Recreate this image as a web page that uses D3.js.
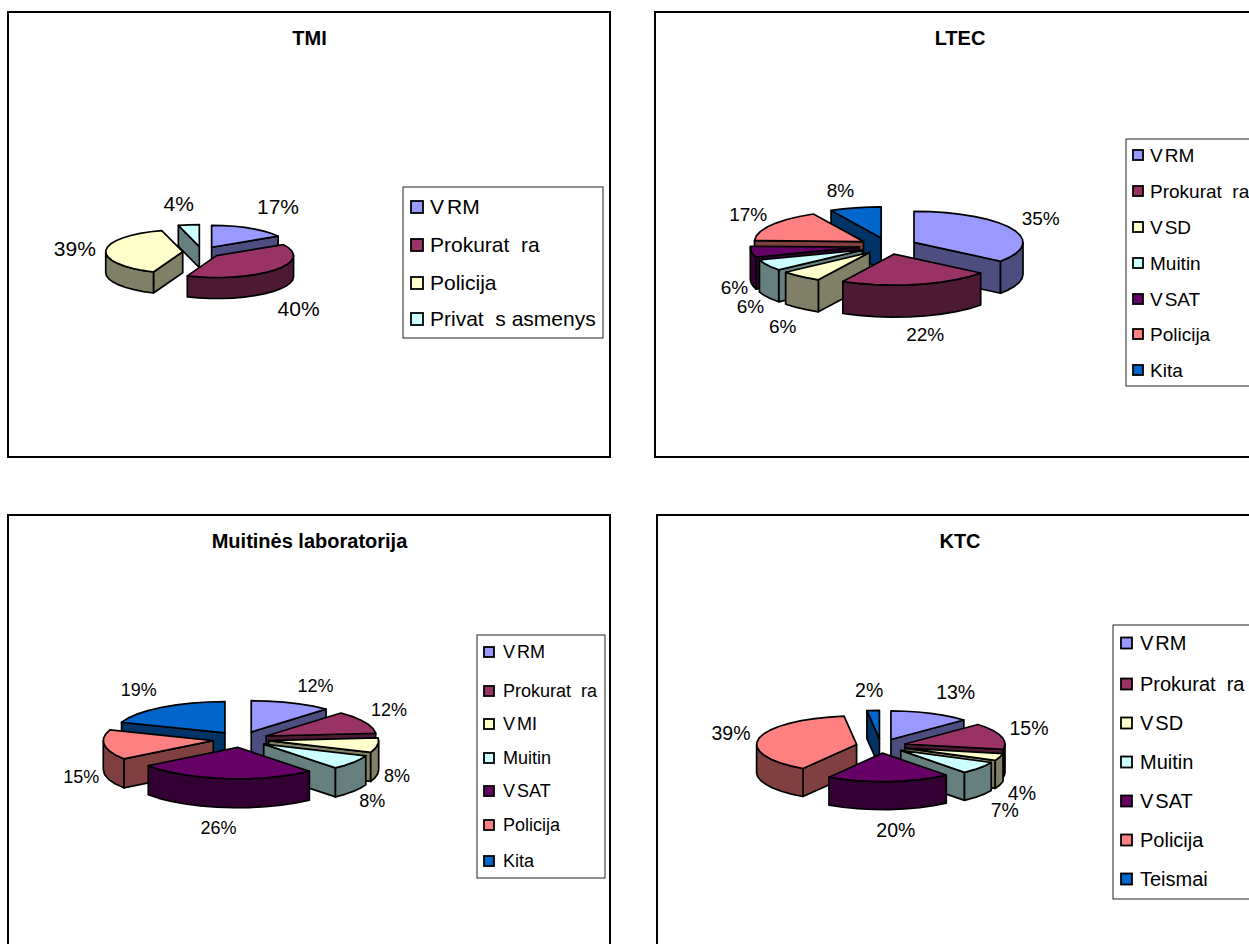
<!DOCTYPE html>
<html><head><meta charset="utf-8">
<script src="https://cdn.jsdelivr.net/npm/d3@7"></script>
<style>html,body{margin:0;padding:0;background:#fff;overflow:hidden}svg{display:block}text{font-family:"Liberation Sans",Arial,sans-serif;white-space:pre;fill:#000}</style>
</head><body><svg id="c" width="1249" height="944"></svg>
<script>
// ---- data ----
const tmiTitle = "TMI";
const tmiCategories = ["VRM","Prokurat  ra","Policija","Privat  s asmenys"];
const tmiValues = [16.6,39.6,39.4,4.4];
const ltecTitle = "LTEC";
const ltecCategories = ["VRM","Prokurat  ra","VSD","Muitin","VSAT","Policija","Kita"];
const ltecValues = [35.4,22.4,6.2,5.8,5.7,16.9,7.6];
const muitTitle = "Muitinės laboratorija";
const muitCategories = ["VRM","Prokurat  ra","VMI","Muitin","VSAT","Policija","Kita"];
const muitValues = [11.9,11.7,7.5,7.6,26.4,15.45,19.45];
const ktcTitle = "KTC";
const ktcCategories = ["VRM","Prokurat  ra","VSD","Muitin","VSAT","Policija","Teismai"];
const ktcValues = [13,15,4,7,20,39,2];
const palette = ["#9999FF","#993366","#FFFFCC","#CCFFFF","#660066","#FF8080","#0066CC"];

// ---- layout (separate from the data) ----
const charts = [
 {title:tmiTitle, cats:tmiCategories, vals:tmiValues,
  frame:[8,12,602,445], titleX:309.5, titleY:45, cx:202, cy:252, rx:77, depth:21, explode:19.3, labelSize:21,
  nudge:[[28,-22],[24,39],[-31,-2],[-10,-21]],
  legend:{x:403,y:187,w:200,h:151,rows:[207,245,283,319],swatch:12,swatchX:8,textX:27,size:21,gap:3}},
 {title:ltecTitle, cats:ltecCategories, vals:ltecValues,
  frame:[655,12,640,445], titleX:960, titleY:45, cx:888, cy:246, rx:109, depth:32, explode:29, labelSize:19,
  nudge:[[29,-10],[8,50],[-18,50],[-17,41],[-17,36],[-23,-11],[-15,-17]],
  legend:{x:1126,y:139,w:160,h:247,rows:[155,191,227,263,299,334,370],swatch:10,swatchX:7,textX:24,size:19,gap:2}},
 {title:muitTitle, cats:muitCategories, vals:muitValues,
  frame:[8,515,602,480], titleX:309.5, titleY:548, cx:241, cy:739.5, rx:110, depth:29, explode:28, labelSize:18,
  nudge:[[24,-17],[24,-12],[19.5,30],[19,38],[-6,49],[-23,32],[-23,-18]],
  legend:{x:477,y:635,w:128,h:243,rows:[652,691,724,758,791,825,861],swatch:10,swatchX:7,textX:26,size:18,gap:2}},
 {title:ktcTitle, cats:ktcCategories, vals:ktcValues,
  frame:[657,515,640,480], titleX:960, titleY:548, cx:881, cy:746, rx:100, depth:28, explode:25, labelSize:19.5,
  nudge:[[25,-21],[28,-8],[22,36],[25,42],[7,49],[-28,-5],[-4,-20]],
  legend:{x:1113,y:625,w:180,h:274,rows:[643,684,723,762,801,840,879],swatch:11,swatchX:8,textX:27,size:20,gap:2}}
];
const squash = 0.285;
const stepDeg = 9;
const svg = d3.select("#c");
const pie = d3.pie().sort(null).value(d=>d);
const dark = c => { const r=d3.rgb(c); return d3.rgb(r.r*.5,r.g*.5,r.b*.5).formatHex(); };

charts.forEach(ch=>{
  const [fx,fy,fw,fh]=ch.frame;
  const g=svg.append("g");
  g.append("rect").attr("x",fx).attr("y",fy).attr("width",fw).attr("height",fh)
    .attr("fill","#fff").attr("stroke","#000").attr("stroke-width",2);
  g.append("text").attr("x",ch.titleX).attr("y",ch.titleY).attr("text-anchor","middle")
    .attr("font-size",20).attr("font-weight","bold").text(ch.title);

  const ry=ch.rx*squash, ey=ch.explode*squash;
  const color=d3.scaleOrdinal().domain(ch.cats).range(palette);
  const sx=d3.scaleLinear().domain([-1,1]).range([ch.cx-ch.rx,ch.cx+ch.rx]);
  const sy=d3.scaleLinear().domain([-1,1]).range([ch.cy+ry,ch.cy-ry]); // north = +1
  const arcs=pie(ch.vals).map((a,i)=>{
    const mid=(a.startAngle+a.endAngle)/2;
    return {...a,i,mid,ox:ch.explode*Math.sin(mid),oy:-ey*Math.cos(mid),cat:ch.cats[i]};
  });
  const pt=(a,t,dz=0)=>[sx(Math.sin(t))+a.ox, sy(Math.cos(t))+a.oy+dz];
  const apex=(a,dz=0)=>[ch.cx+a.ox, ch.cy+a.oy+dz];
  const samples=(t0,t1)=>{
    const n=Math.max(1,Math.ceil((t1-t0)/(stepDeg*Math.PI/180))), o=[];
    for(let k=0;k<=n;k++) o.push(t0+(t1-t0)*k/n);
    return o;
  };
  const line=d3.line().curve(d3.curveLinear);
  const face=(sel,pts,fill)=>sel.append("path").attr("d",line(pts)+"Z").attr("fill",fill)
     .attr("stroke","#000").attr("stroke-width",1.7).attr("stroke-linejoin","round");

  // back slices first
  [...arcs].sort((p,q)=>Math.cos(q.mid)-Math.cos(p.mid)).forEach(a=>{
    const s=g.append("g"), c=color(a.cat), d=dark(c), D=ch.depth;
    const t0=a.startAngle,t1=a.endAngle;
    // radial walls facing the viewer
    if(Math.sin(t0)<-1e-6) face(s,[apex(a),pt(a,t0),pt(a,t0,D),apex(a,D)],d);
    if(Math.sin(t1)>1e-6) face(s,[apex(a),pt(a,t1),pt(a,t1,D),apex(a,D)],d);
    // outer wall: the front half of the rim
    const lo=Math.max(t0,Math.PI/2), hi=Math.min(t1,3*Math.PI/2);
    if(hi>lo){
      const ts=samples(lo,hi);
      face(s,[...ts.map(t=>pt(a,t)),...ts.slice().reverse().map(t=>pt(a,t,D))],d);
    }
    // top
    face(s,[apex(a),...samples(t0,t1).map(t=>pt(a,t))],c);
    // label
    const n=ch.nudge[a.i], ax=ch.cx+(ch.rx+ch.explode)*Math.sin(a.mid), ay=ch.cy-(ry+ey)*Math.cos(a.mid);
    g.append("text").attr("class","lab").attr("x",ax+n[0]).attr("y",ay+n[1]).attr("dy","0.35em")
      .attr("text-anchor","middle").attr("font-size",ch.labelSize).text(Math.round(a.value)+"%");
  });
  g.selectAll("text.lab").raise();

  // legend
  const L=ch.legend;
  const lg=g.append("g");
  lg.append("rect").attr("x",L.x).attr("y",L.y).attr("width",L.w).attr("height",L.h)
    .attr("fill","#fff").attr("stroke","#222").attr("stroke-width",1);
  ch.cats.forEach((t,i)=>{
    const y=L.rows[i];
    lg.append("rect").attr("x",L.x+L.swatchX).attr("y",y-L.swatch/2).attr("width",L.swatch).attr("height",L.swatch)
      .attr("fill",color(t)).attr("stroke","#000").attr("stroke-width",1.8);
    const tx=lg.append("text").attr("x",L.x+L.textX).attr("y",y).attr("dy","0.35em").attr("font-size",L.size);
    if(t.startsWith("V")){ tx.append("tspan").text("V"); tx.append("tspan").attr("dx",L.gap).text(t.slice(1)); }
    else tx.text(t);
  });
});
</script></body></html>
